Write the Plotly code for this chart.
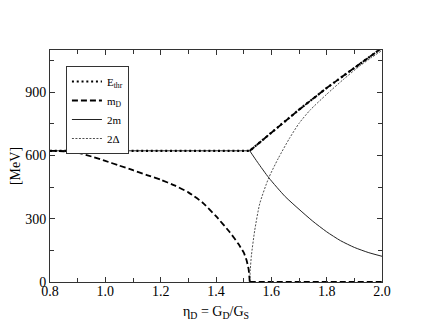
"""Threshold energy, diquark mass and gap versus eta_D."""

import plotly.graph_objects as go

# E_thr: flat up to the kink, then rising
ETHR_ETA = [0.8, 1.522, 1.6, 1.7, 1.8, 1.9, 2.0]
ETHR_MEV = [622, 622, 708, 817, 920, 1015, 1110]

# m_D: falls to zero at the kink, stays at zero
MD_ETA = [0.8, 0.85, 0.9, 0.95, 1.0, 1.05, 1.1, 1.15, 1.2, 1.25, 1.3, 1.35,
          1.4, 1.45, 1.48, 1.5, 1.51, 1.518, 1.522]
MD_MEV = [622, 620, 613, 595, 574, 552, 530, 507, 485, 458, 425, 378,
          312, 236, 182, 140, 105, 60, 0]
MD_ZERO_ETA = [1.522, 2.0]
MD_ZERO_MEV = [0, 0]

# 2m: constant, then decreasing past the kink
TWO_M_FLAT_ETA = [0.8, 1.522]
TWO_M_FLAT_MEV = [622, 622]
TWO_M_ETA = [1.522, 1.55, 1.591, 1.65, 1.7, 1.75, 1.8, 1.85, 1.9, 1.95, 2.0]
TWO_M_MEV = [622, 568, 494, 405, 345, 288, 238, 196, 164, 140, 122]

# 2 Delta: opens at the kink
TWO_DELTA_ETA = [1.522, 1.524, 1.528, 1.54, 1.558, 1.59, 1.625, 1.665, 1.7,
                 1.74, 1.8, 1.86, 1.92, 1.96, 2.0]
TWO_DELTA_MEV = [0, 60, 126, 245, 371, 492, 586, 680, 752,
                 815, 890, 960, 1025, 1062, 1098]

X_TITLE = 'η<sub>D</sub> = G<sub>D</sub>/G<sub>S</sub>'
Y_TITLE = '[MeV]'

FONT = 'Liberation Serif'
AXIS_COLOR = '#333333'
THIN = '#222222'

fig = go.Figure()

fig.add_trace(go.Scatter(
    x=TWO_DELTA_ETA, y=TWO_DELTA_MEV, mode='lines', name='2Δ', legendrank=4,
    line={'color': THIN, 'width': 0.8, 'dash': '2px,1.5px',
          'shape': 'spline', 'smoothing': 0.6},
))
fig.add_trace(go.Scatter(
    x=TWO_M_FLAT_ETA, y=TWO_M_FLAT_MEV, mode='lines', showlegend=False,
    line={'color': THIN, 'width': 1},
))
fig.add_trace(go.Scatter(
    x=TWO_M_ETA, y=TWO_M_MEV, mode='lines', name='2m', legendrank=3,
    line={'color': THIN, 'width': 1, 'shape': 'spline', 'smoothing': 0.6},
))
fig.add_trace(go.Scatter(
    x=MD_ETA, y=MD_MEV, mode='lines', name='m<sub>D</sub>', legendrank=2,
    line={'color': 'black', 'width': 1.8, 'dash': '6px,3px',
          'shape': 'spline', 'smoothing': 0.5},
))
fig.add_trace(go.Scatter(
    x=MD_ZERO_ETA, y=MD_ZERO_MEV, mode='lines', showlegend=False,
    line={'color': 'black', 'width': 1.8, 'dash': '6px,3px'},
))
# upper branch of m_D runs along E_thr
fig.add_trace(go.Scatter(
    x=ETHR_ETA[1:], y=ETHR_MEV[1:], mode='lines', showlegend=False,
    line={'color': 'black', 'width': 1.8, 'dash': '6px,3px'},
))
fig.add_trace(go.Scatter(
    x=ETHR_ETA, y=ETHR_MEV, mode='lines', name='E<sub>thr</sub>', legendrank=1,
    line={'color': 'black', 'width': 2.2, 'dash': '2px,2.8px'},
))

axis_common = {
    'showline': True,
    'linecolor': AXIS_COLOR,
    'linewidth': 1,
    'mirror': 'ticks',
    'ticks': 'inside',
    'ticklen': 5,
    'tickcolor': AXIS_COLOR,
    'showgrid': False,
    'zeroline': False,
    'automargin': False,
    'tickfont': {'family': FONT, 'size': 14, 'color': 'black'},
}

fig.update_xaxes(
    axis_common,
    range=[0.8, 2.0],
    tick0=0.8,
    dtick=0.2,
    tickformat='.1f',
    ticklabelstandoff=-4,
    minor={'dtick': 0.1, 'ticks': 'inside', 'ticklen': 4, 'tickcolor': AXIS_COLOR},
)
fig.update_yaxes(
    axis_common,
    range=[0, 1100],
    tick0=0,
    dtick=300,
    minor={'dtick': 150, 'ticks': 'inside', 'ticklen': 4, 'tickcolor': AXIS_COLOR},
    title={'text': Y_TITLE, 'font': {'family': FONT, 'size': 14, 'color': 'black'},
           'standoff': 2},
)

# x title sits close under the tick labels, as in the original
fig.add_annotation(
    text=X_TITLE, xref='paper', yref='paper', x=0.5, y=-0.088, xanchor='center',
    yanchor='top', showarrow=False,
    font={'family': FONT, 'size': 14, 'color': 'black'},
)

# the page body adds an 8px margin, so the figure is sized to fit inside it
fig.update_layout(
    width=414,
    height=316,
    margin={'l': 42, 'r': 40, 't': 42, 'b': 42},
    plot_bgcolor='#ffffff',
    paper_bgcolor='#ffffff',
    font={'family': FONT, 'size': 14, 'color': 'black'},
    legend={
        'x': 0.048, 'y': 0.931, 'xanchor': 'left', 'yanchor': 'top',
        'bgcolor': 'white', 'bordercolor': AXIS_COLOR, 'borderwidth': 1,
        'font': {'family': FONT, 'size': 11, 'color': 'black'},
        'tracegroupgap': 0, 'itemwidth': 30,
    },
)

fig.write_html('out.html')
